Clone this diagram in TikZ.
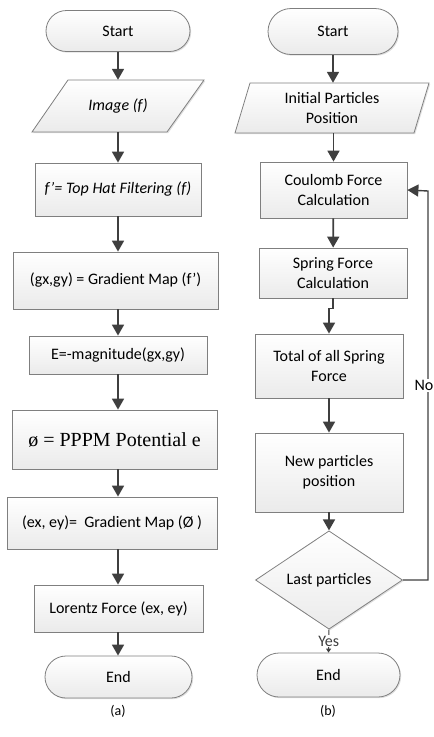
\documentclass[tikz,border=0pt]{standalone}
\usepackage{fontspec}
\setmainfont{Carlito}
\newfontfamily\timesfont{Liberation Serif}
\usetikzlibrary{shapes.geometric,shapes.misc,arrows.meta,shadows}
\definecolor{edgegray}{HTML}{7F7F7F}
\definecolor{flowgray}{HTML}{3F3F3F}
\tikzset{
	look/.style={draw=edgegray, line width=0.8pt, top color=white, bottom color=gray!16,
		drop shadow={fill=gray!70, opacity=0.35, shadow xshift=1.2pt, shadow yshift=-1.2pt}},
	box/.style={rectangle, look, align=center, inner sep=2pt, font=\fontsize{16}{20}\selectfont},
	term/.style={box, rounded rectangle},
	inout/.style={rectangle, align=center, inner sep=2pt, font=\fontsize{16}{20}\selectfont},
	decide/.style={box, diamond},
	flow/.style={draw=flowgray, line width=1.8pt, -{Triangle[length=11pt,width=12pt]}},
	caption/.style={font=\fontsize{14}{16}\selectfont}
}

\begin{document}
\begin{tikzpicture}[x=1pt,y=-1pt]
	\useasboundingbox (0,0) rectangle (434,737);

	% (a)
	\node[term, minimum width=148, minimum height=41] (startA) at (118,31) {Start};
	\path[look] (68,80) -- (204,80) -- (167,132) -- (32,132) -- cycle;
	\node[inout, minimum width=136, minimum height=52] (image) at (118,106) {\itshape Image (f)};
	\node[box, minimum width=166, minimum height=53] (tophat) at (118,189.5) {\itshape f’= Top Hat Filtering (f)};
	\node[box, minimum width=205, minimum height=57] (grad) at (115.5,280.5) {(gx,gy) = Gradient Map (f’)};
	\node[box, minimum width=178, minimum height=38] (mag) at (118,355) {E=-magnitude(gx,gy)};
	\node[box, minimum width=205, minimum height=59, font=\timesfont\fontsize{20}{23}\selectfont] (pppm) at (114.5,439.5) {ø = PPPM Potential e};
	\node[box, minimum width=210, minimum height=52] (exey) at (112,523) {(ex, ey)=\ \ Gradient Map (Ø )};
	\node[box, minimum width=169, minimum height=47] (lorentz) at (118.5,608.5) {Lorentz Force (ex, ey)};
	\node[term, minimum width=151, minimum height=42] (endA) at (118.5,677) {End};
	\node[caption] (capA) at (118,711) {(a)};

	\draw[flow] (startA) -- (image);
	\draw[flow] (image) -- (tophat);
	\draw[flow] (tophat.south) -- (tophat.south |- grad.north);
	\draw[flow] (grad.south -| mag.north) -- (mag.north);
	\draw[flow] (mag.south) -- (mag.south |- pppm.north);
	\draw[flow] (pppm.south -| mag.south) -- (mag.south |- exey.north);
	\draw[flow] (exey.south -| mag.south) -- (mag.south |- lorentz.north);
	\draw[flow] (lorentz.south -| mag.south) -- (mag.south |- endA.north);

	% (b)
	\node[term, minimum width=134, minimum height=46] (startB) at (333,31.5) {Start};
	\path[look] (250,83) -- (429,83) -- (414,133) -- (235,133) -- cycle;
	\node[inout, minimum width=179, minimum height=50] (init) at (332,108) {Initial Particles\\Position};
	\node[box, minimum width=147, minimum height=56] (coulomb) at (333.5,190) {Coulomb Force\\Calculation};
	\node[box, minimum width=148, minimum height=50] (spring) at (333,273) {Spring Force\\Calculation};
	\node[box, minimum width=148, minimum height=64] (total) at (329,366) {Total of all Spring\\Force};
	\node[box, minimum width=148, minimum height=79] (newpos) at (329,472.5) {New particles\\position};
	\node[decide, minimum width=147, minimum height=89, inner sep=0pt] (last) at (329,580) {Last particles};
	\node[term, minimum width=147, minimum height=44] (endB) at (328.5,675) {End};
	\node[caption] (capB) at (328,711) {(b)};
	\coordinate (turn) at (428,191);

	\draw[flow] (startB.south) -- (startB.south |- init.north);
	\draw[flow] (coulomb.north |- init.south) -- (coulomb.north);
	\draw[flow] (coulomb) -- (spring);
	\draw[flow] (spring.south) -- ++(0,10) -| (total.north);
	\draw[flow] (total.south -| newpos.north) -- (newpos.north);
	\draw[flow] (newpos) -- (last);
	\draw[flowgray, line width=1pt, -{Triangle[length=4pt,width=5pt]}] (last.south) -- node[fill=white, inner sep=1pt, font=\fontsize{16}{20}\selectfont] {Yes} (endB.north);
	\draw[flow, line width=1.4pt] (last.east) -| node[pos=0.75, fill=white, inner sep=1pt, xshift=-4pt, font=\fontsize{16}{20}\selectfont] {No} (turn) -- (coulomb.east);
\end{tikzpicture}
\end{document}
